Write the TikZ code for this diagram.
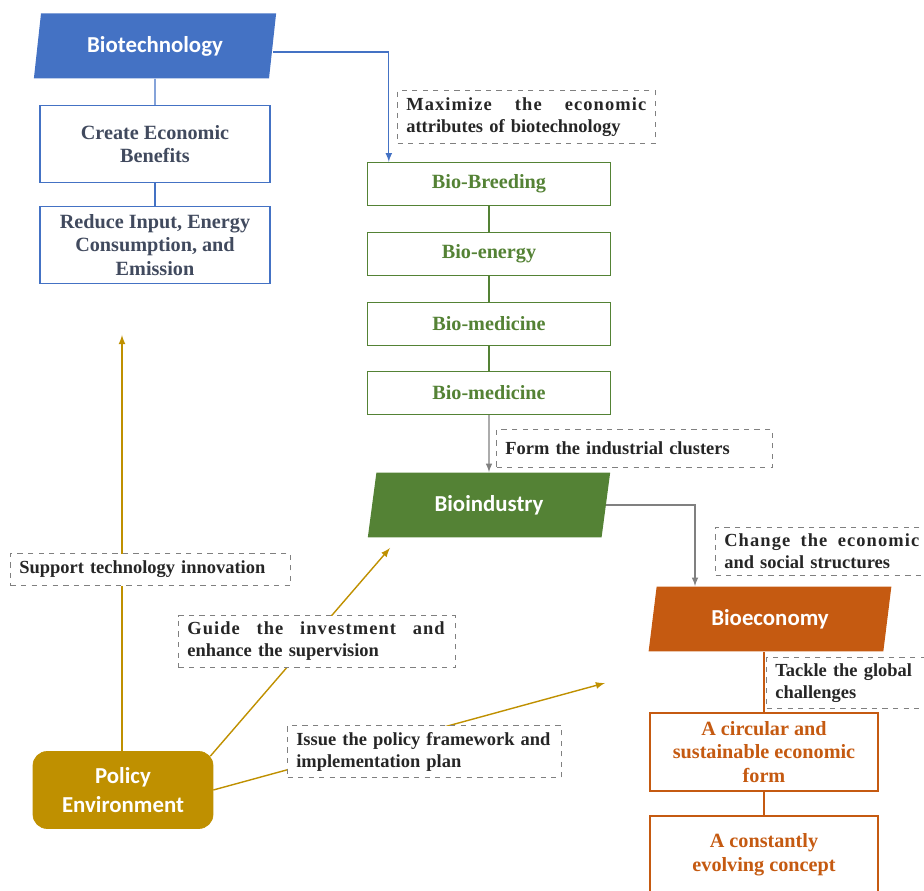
\documentclass[tikz,border=0pt]{standalone}
\usepackage{fontspec}
\setmainfont{Liberation Serif}
\newfontfamily\headfont{Carlito}
\usetikzlibrary{shapes.geometric}

\definecolor{techblue}{HTML}{4472C4}
\definecolor{techtext}{HTML}{414A5E}
\definecolor{indgreen}{HTML}{548235}
\definecolor{ecoorange}{HTML}{C55A11}
\definecolor{policygold}{HTML}{BF9000}
\definecolor{notegray}{HTML}{808080}

\newcommand{\spreadline}[2]{\hbox to #1{\addfontfeature{LetterSpace=6}%
  \spaceskip=0.3em plus 1fil\relax #2}}

\begin{document}
\begin{tikzpicture}[x=0.02cm,y=-0.02cm,>=latex,
  head/.style={trapezium, trapezium left angle=78, trapezium right angle=102,
    trapezium stretches=true, minimum width=4.88cm, minimum height=1.3cm,
    inner sep=0pt, text=white, font=\headfont\bfseries\fontsize{13}{16}\selectfont},
  item/.style={draw, line width=0.8pt, fill=white, align=center, inner sep=2pt,
    font=\bfseries\fontsize{11.5}{13.5}\selectfont},
  note/.style={draw=notegray, dashed, line width=0.6pt, fill=white, anchor=north west,
    align=left, inner xsep=5pt, inner ysep=2pt, text=black!85,
    font=\bfseries\fontsize{10.5}{12.5}\selectfont}]
\useasboundingbox (0,0) rectangle (924,891);

%Biotechnology
\node[head, fill=techblue] (biotech) at (155,46) {Biotechnology};
\node[item, draw=techblue, text=techtext, minimum width=4.6cm, minimum height=1.54cm]
  (benefit) at (155,144) {Create Economic\\Benefits};
\node[item, draw=techblue, text=techtext, minimum width=4.6cm, minimum height=1.54cm]
  (reduce) at (155,245) {Reduce Input, Energy\\Consumption, and\\Emission};
\draw[techblue, line width=0.8pt] (biotech.south) -- (benefit.north);
\draw[techblue, line width=0.8pt] (benefit.south) -- (reduce.north);

%Industries
\node[item, draw=indgreen, text=indgreen, minimum width=4.86cm, minimum height=0.86cm]
  (breed) at (489,184) {Bio-Breeding};
\node[item, draw=indgreen, text=indgreen, minimum width=4.86cm, minimum height=0.86cm]
  (energy) at (489,254) {Bio-energy};
\node[item, draw=indgreen, text=indgreen, minimum width=4.86cm, minimum height=0.86cm]
  (med) at (489,324) {Bio-medicine};
\node[item, draw=indgreen, text=indgreen, minimum width=4.86cm, minimum height=0.86cm]
  (medtwo) at (489,393) {Bio-medicine};
\draw[indgreen, line width=0.8pt] (breed) -- (energy);
\draw[indgreen, line width=0.8pt] (energy) -- (med);
\draw[indgreen, line width=0.8pt] (med) -- (medtwo);
\draw[->, techblue, line width=0.7pt] ([yshift=-0.12cm]biotech.east)
  -| ([xshift=0.44cm]breed.north west);
\node[note, text width=4.8cm, minimum height=1.06cm] (maxnote) at (397,90)
  {\spreadline{4.8cm}{Maximize the economic}\\attributes of biotechnology};

%Bioindustry
\node[head, fill=indgreen] (bioind) at (489,505) {Bioindustry};
\draw[->, notegray, line width=0.7pt] (medtwo.south) -- (bioind.north);
\node[note, text width=5.17cm, minimum height=0.76cm] (formnote) at (496,429)
  {Form the industrial clusters};

%Bioeconomy
\node[head, fill=ecoorange] (bioecon) at (770,619) {Bioeconomy};
\draw[->, notegray, line width=0.7pt] (bioind.east) -| ([xshift=-1.5cm]bioecon.north);
\node[note, text width=3.95cm, minimum height=0.96cm] (changenote) at (715,527)
  {\spreadline{3.9cm}{Change the economic}\\and social structures};
\node[item, draw=ecoorange, text=ecoorange, minimum width=4.56cm, minimum height=1.56cm]
  (circular) at (764,752) {A circular and\\sustainable economic\\form};
\node[item, draw=ecoorange, text=ecoorange, minimum width=4.56cm, minimum height=1.56cm]
  (evolving) at (764,855) {A constantly\\evolving concept};
\draw[ecoorange, line width=0.8pt] (circular.north) -- (circular.north |- bioecon.south);
\draw[ecoorange, line width=0.8pt] (circular) -- (evolving);
\node[note, text width=4cm, minimum height=1.02cm] (tacklenote) at (766,657)
  {Tackle the global\\challenges};

%Policy
\node[draw=policygold, fill=policygold, rounded corners=8pt, minimum width=3.6cm,
  minimum height=1.54cm, align=center, text=white,
  font=\headfont\bfseries\fontsize{13}{16.5}\selectfont]
  (policy) at (123,790) {Policy\\Environment};
\coordinate (uptip) at (122,335);
\coordinate (indtip) at (390,548);
\coordinate (ecotip) at (605,683);
\draw[->, policygold, line width=0.8pt] (policy.north -| uptip) -- (uptip);
\draw[->, policygold, line width=0.8pt] ([shift={(-3,5)}]policy.north east) -- (indtip);
\draw[->, policygold, line width=0.8pt] (policy.east) -- (ecotip);
\node[note, text width=5.25cm, minimum height=0.64cm] (supportnote) at (10,553)
  {Support technology innovation};
\node[note, text width=5.19cm, minimum height=1.04cm] (guidenote) at (178,615)
  {\spreadline{5.15cm}{Guide the investment and}\\enhance the supervision};
\node[note, text width=5.13cm, minimum height=1.04cm] (issuenote) at (287,725)
  {Issue the policy framework and\\implementation plan};
\end{tikzpicture}
\end{document}
